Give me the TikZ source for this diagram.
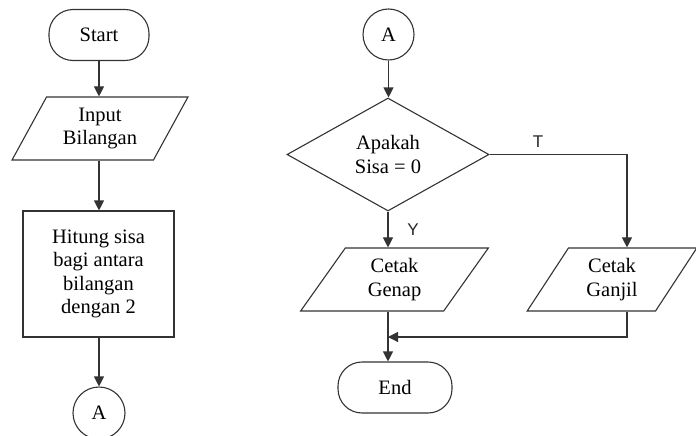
\documentclass[tikz,border=0pt]{standalone}
\usepackage{fontspec}
\setmainfont{Liberation Serif}
\newfontfamily\lblfont{Liberation Sans}
\usetikzlibrary{shapes.geometric,arrows.meta}
\begin{document}
\begin{tikzpicture}[x=1pt,y=-1pt,
  every node/.style={font=\fontsize{20.5}{23.5}\selectfont, align=center, text=black},
  ln/.style={draw=black!80, line width=1.1pt},
  arr/.style={ln, -{Triangle[length=10pt,width=10pt]}},
  term/.style={ln, rectangle, rounded corners=24pt, minimum height=51pt, inner sep=0pt},
  io/.style={ln, trapezium, trapezium left angle=60, trapezium right angle=120, trapezium stretches=true, minimum height=63pt, inner sep=0pt},
  proc/.style={ln, rectangle, minimum width=151pt, minimum height=126pt, inner sep=0pt},
  conn/.style={ln, circle, minimum size=51pt, inner sep=0pt},
  dec/.style={ln, diamond, aspect=1.79, minimum width=202pt, minimum height=113pt, inner sep=0pt},
  lbl/.style={font=\lblfont\fontsize{17}{19}\selectfont, text=black!85}
]
\useasboundingbox (0,0) rectangle (696,436);
% left column
\node[term, minimum width=100pt] (start) at (99,35) {Start};
\node[io, minimum width=176pt] (inp) at (100,128.5) {Input\\Bilangan};
\node[proc] (hit) at (98.5,274) {Hitung sisa\\bagi antara\\bilangan\\dengan 2};
\node[conn, minimum size=52pt] (a1) at (99,413) {A};
\draw[arr] (start.south) -- (start.south |- inp.north);
\draw[arr] (start.south |- inp.south) -- (start.south |- hit.north);
\draw[arr] (start.south |- hit.south) -- (start.south |- a1.north);
% right column
\node[conn] (a2) at (388.5,34.5) {A};
\node[dec] (dia) at (388,154.5) {Apakah\\Sisa = 0};
\node[io, minimum width=188pt] (gen) at (394.5,279.5) {Cetak\\Genap};
\node[io, minimum width=170pt] (gan) at (612,279.5) {Cetak\\Ganjil};
\node[term, minimum width=114pt] (end) at (395,387.5) {End};
\coordinate (tx) at (627,0);
\coordinate (m) at (388,337);
\draw[arr] (a2.south) -- (a2.south |- dia.north);
\draw[arr] (dia.east) -- (dia.east -| tx) -- (tx |- gan.north);
\draw[arr] (dia.south) -- (dia.south |- gen.north);
\draw[arr] (dia.south |- gen.south) -- (dia.south |- end.north);
\draw[arr] (tx |- gan.south) -- (tx |- m) -- (m);
\node[lbl] (t) at (538,142) {T};
\node[lbl] (y) at (413,230) {Y};
\end{tikzpicture}
\end{document}
